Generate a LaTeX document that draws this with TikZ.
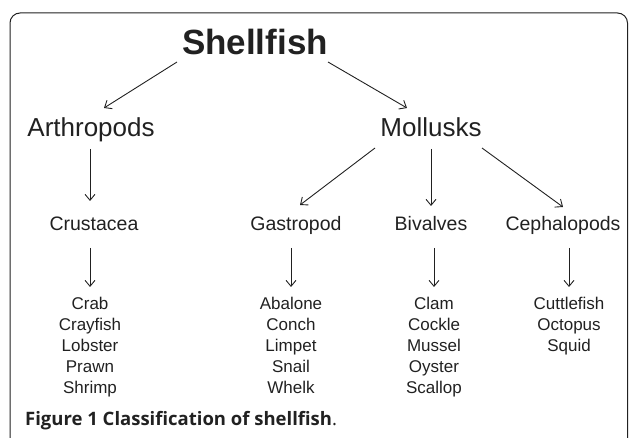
\documentclass[tikz,border=0pt]{standalone}
\usepackage{fontspec}
\setmainfont{Liberation Sans}
\newfontfamily\capfont{Open Sans}
\usetikzlibrary{arrows.meta}
\definecolor{ink}{gray}{0.13}
\tikzset{
  lab/.style={inner sep=0pt, anchor=base, text=ink},
  lvlone/.style={lab, font=\fontsize{35}{40}\selectfont\bfseries},
  lvltwo/.style={lab, font=\fontsize{26}{30}\selectfont},
  lvlthree/.style={lab, font=\fontsize{19.5}{23}\selectfont},
  leaflist/.style={inner sep=0pt, anchor=north, align=center, text=ink, font=\fontsize{17}{21}\selectfont},
  arr/.style={draw=ink, line width=0.9pt, -{Straight Barb[length=6pt,width=10pt,line width=0.9pt]}},
}
\begin{document}
\begin{tikzpicture}[x=1pt,y=-1pt]
\useasboundingbox (0,0) rectangle (629,438);
\begin{scope}
\clip (0,0) rectangle (629,438);
\draw[ink, line width=1pt, rounded corners=10pt] (10,460) -- (10,13) -- (627.5,13) -- (627.5,460);
\end{scope}

\node[lvlone] (shell) at (255,55) {Shellfish};
\node[lvltwo] (arth) at (91,137) {Arthropods};
\node[lvltwo] (moll) at (431,137) {Mollusks};
\node[lvlthree] (crus) at (94,231) {Crustacea};
\node[lvlthree] (gast) at (296,231) {Gastropod};
\node[lvlthree] (biv) at (431,231) {Bivalves};
\node[lvlthree] (ceph) at (563,231) {Cephalopods};

\node[leaflist] (cl) at (90,297) {Crab\\Crayfish\\Lobster\\Prawn\\Shrimp};
\node[leaflist] (gl) at (291,297) {Abalone\\Conch\\Limpet\\Snail\\Whelk};
\node[leaflist] (bl) at (434,297) {Clam\\Cockle\\Mussel\\Oyster\\Scallop};
\node[leaflist] (pl) at (569,297) {Cuttlefish\\Octopus\\Squid};

\draw[arr] ([shift={(-78pt,-7pt)}]shell.base) -- ([shift={(13pt,29pt)}]arth.base);
\draw[arr] ([shift={(73pt,-7pt)}]shell.base) -- ([shift={(-24pt,29pt)}]moll.base);
\draw[arr] ([shift={(-1pt,-12pt)}]arth.base) -- ([shift={(-4pt,30pt)}]crus.base);
\draw[arr] ([shift={(-56pt,-11pt)}]moll.base) -- ([shift={(4pt,26pt)}]gast.base);
\draw[arr] ([shift={(0pt,-12pt)}]moll.base) -- ([shift={(0pt,25pt)}]biv.base);
\draw[arr] ([shift={(51pt,-11pt)}]moll.base) -- ([shift={(0pt,24pt)}]ceph.base);

\draw[arr] ([yshift=-17pt]crus.base -| cl.north) -- ([yshift=10pt]cl.north);
\draw[arr] ([yshift=-17pt]gast.base -| gl.north) -- ([yshift=10pt]gl.north);
\draw[arr] ([yshift=-17pt]biv.base -| bl.north) -- ([yshift=10pt]bl.north);
\draw[arr] ([yshift=-17pt]ceph.base -| pl.north) -- ([yshift=10pt]pl.north);

\node[inner sep=0pt, anchor=base west, text=ink, font=\capfont\fontsize{18.5}{21}\selectfont] (cap) at (25,425) {\textbf{Figure 1 Classification of shellfish}.};
\end{tikzpicture}
\end{document}
